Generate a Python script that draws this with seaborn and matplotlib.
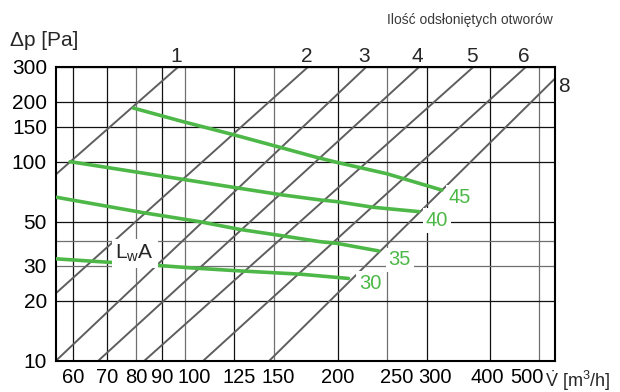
import numpy as np
import pandas as pd
import matplotlib
matplotlib.use('Agg')
import matplotlib.pyplot as plt
from matplotlib.ticker import NullLocator, FixedLocator, FixedFormatter
from matplotlib.transforms import ScaledTranslation
from matplotlib import font_manager
import seaborn as sns

# liczba odsłoniętych otworów - linie charakterystyk (przepływ przy 10 Pa i 300 Pa)
holes = ['1', '2', '3', '4', '5', '6', '8']
flow_at_10pa = [21.2, 39.5, 55.6, 67.4, 83.1, 108.6, 146.6]
flow_at_300pa = [97, 175, 228, 290, 371, 471, 567]

# krzywe poziomu mocy akustycznej LwA
lwa_levels = ['30', '35', '40', '45']
lwa_30_flow = [55.6, 67, 84, 102, 124, 169, 210]
lwa_30_dp = [32.5, 31.5, 30.4, 29.3, 28.4, 27.2, 25.9]
lwa_35_flow = [55.8, 82.7, 107, 128, 152, 185, 199, 241]
lwa_35_dp = [66.2, 55.4, 49.9, 45.7, 42.8, 39.6, 38.9, 35.6]
lwa_40_flow = [59.3, 99, 128, 156, 185, 199, 235, 289]
lwa_40_dp = [100, 81.5, 73.5, 68, 64.2, 63, 59, 56.1]
lwa_45_flow = [79, 98, 124, 154, 182, 200, 250, 321]
lwa_45_dp = [186, 160, 137, 118, 105, 99, 87, 72]

x_ticks = [60, 70, 80, 90, 100, 125, 150, 200, 250, 300, 400, 500]
y_ticks = [10, 20, 30, 40, 50, 100, 150, 200, 300]
y_tick_labels = ['10', '20', '30', '', '50', '100', '150', '200', '300']
x_gray = [80, 100, 150, 250, 500]
y_gray = [30, 40]
# przesunięcia podpisów osi x (piksele), jak na oryginale
x_label_shift = {100: 9, 125: 5, 150: 4, 250: 10, 300: 8, 400: -3, 500: -12}

sns.set_theme(style='white')
plt.rcParams['font.family'] = ['Liberation Sans', 'DejaVu Sans']
plt.rcParams['mathtext.fontset'] = 'custom'
plt.rcParams['mathtext.rm'] = 'Liberation Sans'
plt.rcParams['mathtext.it'] = 'Liberation Sans:italic'

green = '#4db848'
diag_color = '#5e5e5e'
fs = 15

diag_df = pd.DataFrame({
    'holes': np.repeat(holes, 2),
    'flow': np.ravel(np.column_stack([flow_at_10pa, flow_at_300pa])),
    'dp': np.tile([10, 300], len(holes)),
})
lwa_df = pd.concat([
    pd.DataFrame({'level': lvl, 'flow': f, 'dp': p})
    for lvl, f, p in zip(lwa_levels,
                         [lwa_30_flow, lwa_35_flow, lwa_40_flow, lwa_45_flow],
                         [lwa_30_dp, lwa_35_dp, lwa_40_dp, lwa_45_dp])
])

fig = plt.figure(figsize=(6.2, 3.92), dpi=100)
ax = fig.add_axes([56 / 620, 1 - 360.7 / 392, 499 / 620, 294 / 392])
ax.set_xscale('log')
ax.set_yscale('log')

sns.lineplot(data=diag_df, x='flow', y='dp', units='holes', estimator=None,
             color=diag_color, lw=1.4, ax=ax, zorder=2)
sns.lineplot(data=lwa_df, x='flow', y='dp', units='level', estimator=None,
             color=green, lw=2.6, ax=ax, zorder=3)

ax.set_xlim(55.6, 537)
ax.set_ylim(10, 300)
ax.xaxis.set_major_locator(FixedLocator(x_ticks))
ax.xaxis.set_major_formatter(FixedFormatter([str(v) for v in x_ticks]))
ax.yaxis.set_major_locator(FixedLocator(y_ticks))
ax.yaxis.set_major_formatter(FixedFormatter(y_tick_labels))
ax.xaxis.set_minor_locator(NullLocator())
ax.yaxis.set_minor_locator(NullLocator())
ax.tick_params(axis='both', length=0, labelsize=fs, colors='black')
ax.tick_params(axis='x', pad=5.5, labelsize=14.5)
ax.tick_params(axis='y', pad=6.5)
ax.set_xlabel('')
ax.set_ylabel('')

for lab, v in zip(ax.get_xticklabels(), x_ticks):
    dx = x_label_shift.get(v, 0)
    lab.set_transform(lab.get_transform() + ScaledTranslation(dx / 100, 0, fig.dpi_scale_trans))

ax.set_axisbelow(True)
ax.grid(True, which='major', color='#111111', lw=0.9)
for line, v in zip(ax.get_xgridlines(), x_ticks):
    if v in x_gray:
        line.set_color('#707070')
for line, v in zip(ax.get_ygridlines(), y_ticks):
    if v in y_gray:
        line.set_color('#707070')
for s in ax.spines.values():
    s.set_color('black')
    s.set_linewidth(1.5)

# numery linii nad wykresem
for h, v in zip(holes[:-1], flow_at_300pa[:-1]):
    ax.annotate(h, (v, 300), xytext=(-2, 1), textcoords='offset pixels',
                ha='center', va='bottom', fontsize=fs, annotation_clip=False)
n8 = np.log(300 / 10) / np.log(flow_at_300pa[-1] / flow_at_10pa[-1])
xr = ax.get_xlim()[1]
dp8 = 10 * (xr / flow_at_10pa[-1]) ** n8
ax.annotate(holes[-1], (xr, dp8), xytext=(3, -8), textcoords='offset pixels',
            ha='left', va='center', fontsize=fs, annotation_clip=False)

# etykiety krzywych LwA
ends = [(lwa_30_flow[-1], lwa_30_dp[-1]), (lwa_35_flow[-1], lwa_35_dp[-1]),
        (lwa_40_flow[-1], lwa_40_dp[-1]), (lwa_45_flow[-1], lwa_45_dp[-1])]
offsets = [(22, -5), (21, -9), (18, -9), (18, -7)]
for lvl, (fx, fy), off in zip(lwa_levels, ends, offsets):
    ax.annotate(lvl, (fx, fy), xytext=off, textcoords='offset pixels',
                ha='center', va='center', fontsize=fs - 0.5, color=green, zorder=6,
                bbox=dict(facecolor='white', edgecolor='none', pad=2))

ax.text(0.158, 0.365, r'L$_\mathrm{w}$A', transform=ax.transAxes, ha='center',
        va='center', fontsize=fs, zorder=6,
        bbox=dict(facecolor='white', edgecolor='none', pad=2.5))

fig.text(10 / 620, 1 - 41 / 392, 'Δp [Pa]', ha='left', va='center', fontsize=fs)
fig.text(545 / 620, 1 - 381 / 392, r'$\dot{\mathrm{V}}$ [m$^3$/h]', ha='left',
         va='center', fontsize=13)

names = {f.name for f in font_manager.fontManager.ttflist}
narrow = 'Liberation Sans Narrow' if 'Liberation Sans Narrow' in names else 'Liberation Sans'
fig.text(553 / 620, 1 - 20 / 392, 'Ilość odsłoniętych otworów', ha='right',
         va='center', fontsize=12 if narrow != 'Liberation Sans' else 10,
         family=[narrow, 'DejaVu Sans'], color='#3a3a3a')

fig.savefig('out.png', dpi=100)
